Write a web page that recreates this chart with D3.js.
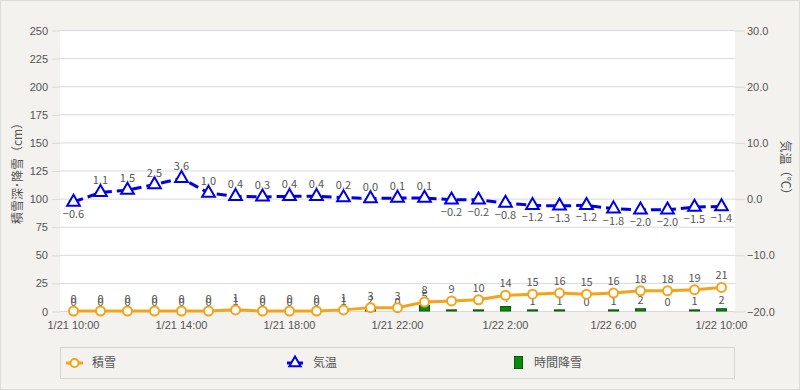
<!DOCTYPE html>
<html><head><meta charset="utf-8">
<script src="https://cdn.jsdelivr.net/npm/d3@7"></script>
<style>
body{margin:0;background:#f3f2ee;}
svg{display:block;font-family:"Noto Sans CJK JP","Noto Sans",sans-serif;}
</style></head>
<body><svg id="c" width="800" height="390"></svg>
<script>
const categories = ["1/21 10:00","1/21 11:00","1/21 12:00","1/21 13:00","1/21 14:00","1/21 15:00","1/21 16:00","1/21 17:00","1/21 18:00","1/21 19:00","1/21 20:00","1/21 21:00","1/21 22:00","1/21 23:00","1/22 0:00","1/22 1:00","1/22 2:00","1/22 3:00","1/22 4:00","1/22 5:00","1/22 6:00","1/22 7:00","1/22 8:00","1/22 9:00","1/22 10:00"];
const snowDepth = [0,0,0,0,0,0,1,0,0,0,1,3,3,8,9,10,14,15,16,15,16,18,18,19,21];
const temperature = [-0.6,1.1,1.5,2.5,3.6,1.0,0.4,0.3,0.4,0.4,0.2,0.0,0.1,0.1,-0.2,-0.2,-0.8,-1.2,-1.3,-1.2,-1.8,-2.0,-2.0,-1.5,-1.4];
const hourlySnow = [0,0,0,0,0,0,1,0,0,0,1,2,0,5,1,1,4,1,1,0,1,2,0,1,2];
const leftTicks = [0,25,50,75,100,125,150,175,200,225,250];
const rightTicks = [-20,-10,0,10,20,30];
const xTickLabels = ["1/21 10:00","1/21 14:00","1/21 18:00","1/21 22:00","1/22 2:00","1/22 6:00","1/22 10:00"];
const seriesNames = ["積雪","気温","時間降雪"];

const svg = d3.select("#c");
const W=800,H=390, L=60, R=735, T=30, B=311;
svg.append("rect").attr("x",0.5).attr("y",0.5).attr("width",W-1).attr("height",H-1).attr("fill","#f3f2ee").attr("stroke","#dcdcd8");
svg.append("rect").attr("x",L).attr("y",T).attr("width",R-L).attr("height",B-T).attr("fill","#fff");

const x = d3.scaleBand().domain(categories).range([L,R]);
const cx = d => x(d)+x.bandwidth()/2;
const yL = d3.scaleLinear().domain([0,250]).range([B,T]);
const yR = d3.scaleLinear().domain([-20,30]).range([B,T]);
const txtCol="#555", fs=11;

// grid
svg.append("g").selectAll("line").data(leftTicks).join("line")
  .attr("x1",L).attr("x2",R).attr("y1",d=>yL(d)+0.5).attr("y2",d=>yL(d)+0.5).attr("stroke","#d9d9d9");
// left axis
const ax = d3.axisLeft(yL).tickValues(leftTicks).tickSize(8).tickPadding(4);
const gL = svg.append("g").attr("transform",`translate(${L},0.5)`).call(ax);
gL.select(".domain").remove();
gL.selectAll("line").attr("stroke","#d9d9d9");
gL.selectAll("text").attr("fill",txtCol).style("font-size",fs+"px").style("font-family","inherit");
const axR = d3.axisRight(yR).tickValues(rightTicks).tickFormat(d3.format(".1f")).tickSize(10).tickPadding(2);
const gR = svg.append("g").attr("transform",`translate(${R},0.5)`).call(axR);
gR.select(".domain").remove();
gR.selectAll("line").attr("stroke","#d9d9d9");
gR.selectAll("text").attr("fill",txtCol).style("font-size",fs+"px").style("font-family","inherit");
// x axis labels
const axB = d3.axisBottom(x).tickValues(xTickLabels).tickSize(0).tickPadding(10);
const gB = svg.append("g").attr("transform",`translate(0,${B})`).call(axB);
gB.select(".domain").remove();
gB.selectAll("text").attr("fill",txtCol).style("font-size",fs+"px").style("font-family","inherit");

// axis titles
svg.append("text").attr("transform",`translate(22,${(T+B)/2}) rotate(-90)`).attr("text-anchor","middle")
  .attr("fill",txtCol).style("font-size","12px").text("積雪深･降雪（cm）");
svg.append("text").attr("transform",`translate(781,${(T+B)/2}) rotate(90)`).attr("text-anchor","middle")
  .attr("fill",txtCol).style("font-size","12px").text("気温（℃）");

// bars
const bw=10;
svg.append("g").selectAll("rect").data(hourlySnow.map((v,i)=>({v,c:categories[i]}))).join("rect")
  .attr("x",d=>cx(d.c)-bw/2).attr("y",d=>yL(d.v)).attr("width",bw).attr("height",d=>B-yL(d.v))
  .attr("fill","#0a8a0a").attr("stroke","#0b5a0b").attr("stroke-width",1);
svg.append("g").selectAll("text").data(hourlySnow.map((v,i)=>({v,c:categories[i]}))).join("text")
  .attr("x",d=>cx(d.c)).attr("y",d=>yL(d.v)-5).attr("text-anchor","middle")
  .attr("fill",txtCol).style("font-size",fs+"px").text(d=>d.v);

// temperature
const tData = temperature.map((v,i)=>({v,c:categories[i]}));
svg.append("path").datum(tData).attr("fill","none").attr("stroke","#0000e6").attr("stroke-width",3)
  .attr("stroke-dasharray","10,5")
  .attr("d",d3.line().x(d=>cx(d.c)).y(d=>yR(d.v)));
const tri = d3.symbol().type(d3.symbolTriangle).size(70);
svg.append("g").selectAll("path").data(tData).join("path")
  .attr("transform",d=>`translate(${cx(d.c)},${yR(d.v)})`).attr("d",tri)
  .attr("fill","#fff").attr("stroke","#0000e6").attr("stroke-width",2);
svg.append("g").selectAll("text").data(tData).join("text")
  .attr("x",d=>cx(d.c)).attr("y",d=>d.v<0?yR(d.v)+16:yR(d.v)-8).attr("text-anchor","middle")
  .attr("fill",txtCol).style("font-size",fs+"px").text(d=>d3.format(".1f")(d.v));

// snow depth
const sData = snowDepth.map((v,i)=>({v,c:categories[i]}));
svg.append("path").datum(sData).attr("fill","none").attr("stroke","#f5a31a").attr("stroke-width",3)
  .attr("d",d3.line().x(d=>cx(d.c)).y(d=>yL(d.v)));
svg.append("g").selectAll("circle").data(sData).join("circle")
  .attr("cx",d=>cx(d.c)).attr("cy",d=>yL(d.v)).attr("r",4.5)
  .attr("fill","#fff").attr("stroke","#f5a31a").attr("stroke-width",2);
svg.append("g").selectAll("text").data(sData).join("text")
  .attr("x",d=>cx(d.c)).attr("y",d=>yL(d.v)-8).attr("text-anchor","middle")
  .attr("fill",txtCol).style("font-size",fs+"px").text(d=>d.v);

// legend
const lg = svg.append("g");
lg.append("rect").attr("x",60.5).attr("y",347.5).attr("width",674).attr("height",31).attr("fill","none").attr("stroke","#d6d6d2");
const ly=363;
// orange
lg.append("line").attr("x1",66).attr("x2",83).attr("y1",ly).attr("y2",ly).attr("stroke","#f5a31a").attr("stroke-width",3);
lg.append("circle").attr("cx",74.5).attr("cy",ly).attr("r",4).attr("fill","#fff").attr("stroke","#f5a31a").attr("stroke-width",2);
lg.append("text").attr("x",92).attr("y",ly+4).attr("fill",txtCol).style("font-size","12px").text(seriesNames[0]);
// blue
lg.append("line").attr("x1",287).attr("x2",303).attr("y1",ly).attr("y2",ly).attr("stroke","#0000e6").attr("stroke-width",3);
lg.append("path").attr("transform",`translate(295,${ly})`).attr("d",d3.symbol().type(d3.symbolTriangle).size(55)())
  .attr("fill","#fff").attr("stroke","#0000e6").attr("stroke-width",2);
lg.append("text").attr("x",313).attr("y",ly+4).attr("fill",txtCol).style("font-size","12px").text(seriesNames[1]);
// green
lg.append("rect").attr("x",514.5).attr("y",ly-6.5).attr("width",8).attr("height",12).attr("fill","#0a8a0a").attr("stroke","#0b5a0b");
lg.append("text").attr("x",534).attr("y",ly+4).attr("fill",txtCol).style("font-size","12px").text(seriesNames[2]);
</script></body></html>
